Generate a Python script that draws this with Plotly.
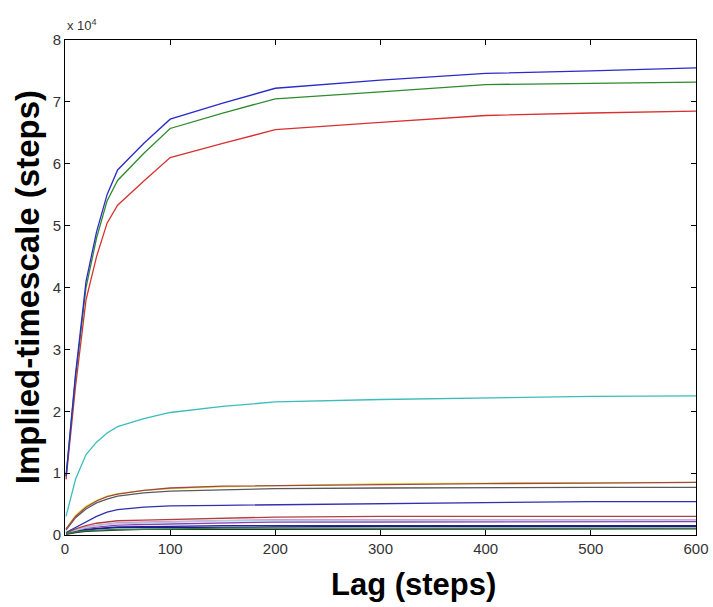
import plotly.graph_objects as go

# Lag values (steps)
lags = [1, 10, 20, 30, 40, 50, 75, 100, 150, 200, 300, 400, 500, 600]

# Implied timescales in units of 1e4 steps
its_1 = [0.95, 2.6, 4.1, 4.9, 5.5, 5.9, 6.33, 6.72, 6.98, 7.22, 7.35, 7.46, 7.5, 7.55]
its_2 = [0.95, 2.55, 4.0, 4.8, 5.4, 5.73, 6.17, 6.57, 6.82, 7.05, 7.16, 7.28, 7.3, 7.32]
its_3 = [0.9, 2.4, 3.8, 4.5, 5.04, 5.33, 5.72, 6.1, 6.33, 6.55, 6.67, 6.78, 6.82, 6.85]
its_4 = [0.3, 0.9, 1.3, 1.5, 1.65, 1.75, 1.88, 1.98, 2.08, 2.15, 2.19, 2.22, 2.24, 2.25]
its_5 = [0.1, 0.3, 0.45, 0.55, 0.62, 0.66, 0.72, 0.76, 0.79, 0.8, 0.82, 0.83, 0.84, 0.85]
its_6 = [0.1, 0.32, 0.47, 0.56, 0.63, 0.67, 0.72, 0.75, 0.78, 0.8, 0.83, 0.84, 0.85, 0.85]
its_7 = [0.08, 0.28, 0.42, 0.52, 0.58, 0.63, 0.68, 0.71, 0.73, 0.75, 0.76, 0.77, 0.77, 0.77]
its_8 = [0.04, 0.12, 0.22, 0.3, 0.37, 0.41, 0.45, 0.47, 0.48, 0.49, 0.51, 0.53, 0.54, 0.54]
its_9 = [0.02, 0.05, 0.07, 0.08, 0.085, 0.09, 0.09, 0.1, 0.11, 0.11, 0.11, 0.11, 0.11, 0.11]
its_10 = [0.03, 0.1, 0.15, 0.19, 0.21, 0.23, 0.24, 0.25, 0.28, 0.29, 0.3, 0.3, 0.3, 0.3]
its_11 = [0.03, 0.08, 0.12, 0.15, 0.17, 0.18, 0.19, 0.2, 0.23, 0.23, 0.24, 0.24, 0.24, 0.24]
its_12 = [0.03, 0.08, 0.13, 0.16, 0.18, 0.2, 0.21, 0.22, 0.24, 0.25, 0.25, 0.25, 0.25, 0.25]
its_13 = [0.02, 0.07, 0.11, 0.13, 0.15, 0.16, 0.17, 0.18, 0.2, 0.21, 0.21, 0.215, 0.215, 0.215]
its_14 = [0.01, 0.04, 0.06, 0.07, 0.08, 0.08, 0.09, 0.09, 0.1, 0.1, 0.1, 0.1, 0.1, 0.1]
its_15 = [0.02, 0.05, 0.08, 0.1, 0.11, 0.12, 0.12, 0.12, 0.13, 0.13, 0.14, 0.14, 0.14, 0.14]
its_16 = [0.02, 0.06, 0.09, 0.11, 0.12, 0.13, 0.13, 0.14, 0.15, 0.15, 0.15, 0.15, 0.15, 0.15]

series = [its_1, its_2, its_3, its_4, its_5, its_6, its_7, its_8,
          its_9, its_10, its_11, its_12, its_13, its_14, its_15, its_16]
colors = ["#2b2bcc", "#2e8b2e", "#d93030", "#3cbcbc", "#a04848", "#e6e64a",
          "#5a5a5a", "#3030b0", "#2a8040", "#b04040", "#a8d0e0", "#e090d0",
          "#9040b0", "#303030", "#1a1a80", "#2020a0"]

y_ticks = [0, 1, 2, 3, 4, 5, 6, 7, 8]
x_ticks = [0, 100, 200, 300, 400, 500, 600]

fig = go.Figure()
# draw lower ones first, top three last
order = list(range(len(series)))[::-1]
for i in order:
    fig.add_trace(go.Scatter(x=lags, y=series[i], mode="lines",
                             line=dict(color=colors[i], width=1.3),
                             showlegend=False, hoverinfo="skip"))

axis_common = dict(showline=True, linecolor="black", linewidth=1, mirror="ticks",
                   ticks="inside", ticklen=5, tickcolor="black", showgrid=False,
                   zeroline=False, automargin=False,
                   tickfont=dict(family="Liberation Sans, Arial, sans-serif", size=15, color="#333"))

fig.update_layout(
    width=713, height=607,
    margin=dict(l=65, r=17, t=40, b=72, autoexpand=False),
    paper_bgcolor="white", plot_bgcolor="white",
    xaxis=dict(range=[0, 600], tickvals=x_ticks, ticktext=[str(v) for v in x_ticks], **axis_common),
    yaxis=dict(range=[0, 8], tickvals=y_ticks, ticktext=[str(v) for v in y_ticks], **axis_common),
    annotations=[
        dict(text="<b>Implied-timescale (steps)</b>", xref="paper", yref="paper",
             x=-0.059, y=0.5, xanchor="center", yanchor="middle", textangle=-90,
             showarrow=False, font=dict(family="Liberation Sans, Arial, sans-serif", size=33, color="black")),
        dict(text="<b>Lag (steps)</b>", xref="paper", yref="paper",
             x=0.553, y=-0.101, xanchor="center", yanchor="middle",
             showarrow=False, font=dict(family="Liberation Sans, Arial, sans-serif", size=31, color="black")),
        dict(text="x 10<sup>4</sup>", xref="paper", yref="paper",
             x=0.0, y=1.03, xanchor="left", yanchor="middle",
             showarrow=False, font=dict(family="Liberation Sans, Arial, sans-serif", size=13, color="#333")),
    ],
)

fig.write_html("out.html")
